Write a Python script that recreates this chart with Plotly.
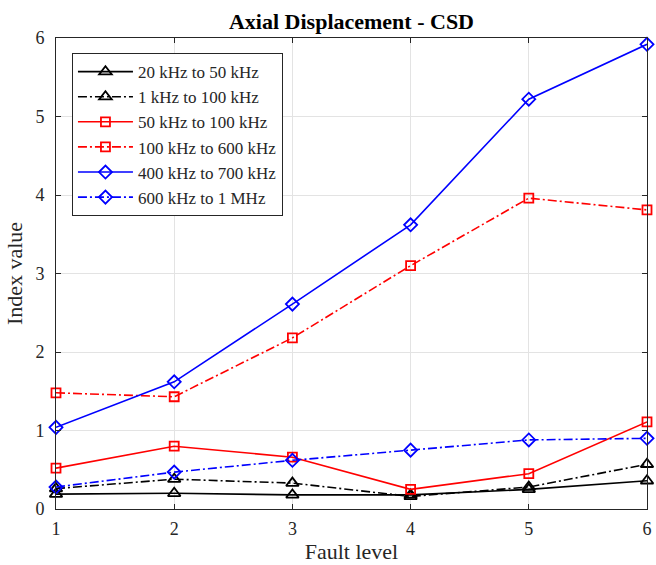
import plotly.graph_objects as go

# Fault levels on the x axis
fault_level = [1, 2, 3, 4, 5, 6]

# Index values per frequency band
band_20k_50k = [0.19, 0.20, 0.18, 0.18, 0.25, 0.36]
band_1k_100k = [0.26, 0.38, 0.33, 0.16, 0.28, 0.57]
band_50k_100k = [0.52, 0.80, 0.66, 0.25, 0.45, 1.11]
band_100k_600k = [1.48, 1.43, 2.18, 3.10, 3.96, 3.81]
band_400k_700k = [1.04, 1.62, 2.61, 3.62, 5.22, 5.92]
band_600k_1M = [0.28, 0.47, 0.62, 0.75, 0.88, 0.90]

series_names = [
    "20 kHz to 50 kHz",
    "1 kHz to 100 kHz",
    "50 kHz to 100 kHz",
    "100 kHz to 600 kHz",
    "400 kHz to 700 kHz",
    "600 kHz to 1 MHz",
]
series_values = [band_20k_50k, band_1k_100k, band_50k_100k,
                 band_100k_600k, band_400k_700k, band_600k_1M]

DASHDOT = "9px,3px,2px,3px"
styles = [
    ("black", "solid", "triangle-up-open", 11),
    ("black", DASHDOT, "triangle-up-open", 11),
    ("#ff0000", "solid", "square-open", 9),
    ("#ff0000", DASHDOT, "square-open", 9),
    ("#0000ff", "solid", "diamond-open", 10),
    ("#0000ff", DASHDOT, "diamond-open", 10),
]

fig = go.Figure()
for name, vals, (color, dash, symbol, size) in zip(series_names, series_values, styles):
    fig.add_trace(go.Scatter(
        x=fault_level, y=vals, name=name, mode="lines+markers",
        line=dict(color=color, width=1.6, dash=dash),
        marker=dict(symbol=symbol, size=size, color=color,
                    line=dict(color=color, width=1.8)),
        cliponaxis=False,
    ))

font_family = "Liberation Serif, Times New Roman, serif"
axis_common = dict(
    showgrid=True, gridcolor="#e3e3e3", gridwidth=1,
    showline=True, linecolor="#262626", linewidth=1, mirror="ticks",
    ticks="inside", ticklen=5, tickcolor="#262626",
    zeroline=False, ticklabeloverflow="allow",
    tickfont=dict(family=font_family, size=18, color="#262626"),
)

fig.update_layout(
    width=656, height=565,
    margin=dict(l=56, r=4, t=38, b=56),
    paper_bgcolor="white", plot_bgcolor="white",
    font=dict(family=font_family, color="#262626"),
    title=dict(text="<b>Axial Displacement - CSD</b>",
               font=dict(family=font_family, size=22, color="black"),
               xref="paper", x=0.5, xanchor="center", y=0.963, yanchor="middle"),
    xaxis=dict(range=[1, 6], tickvals=fault_level, ticklabelstandoff=3,
               title=dict(text="Fault level", standoff=6,
                          font=dict(family=font_family, size=22, color="#262626")),
               **axis_common),
    yaxis=dict(range=[0, 6], tickvals=[0, 1, 2, 3, 4, 5, 6], ticklabelstandoff=7,
               title=dict(text="Index value", standoff=6,
                          font=dict(family=font_family, size=22, color="#262626")),
               **axis_common),
    legend=dict(x=0.027, y=0.968, xanchor="left", yanchor="top",
                bgcolor="white", bordercolor="#262626", borderwidth=1,
                font=dict(family=font_family, size=17, color="#262626"),
                itemwidth=55, tracegroupgap=0),
    showlegend=True,
)

fig.write_html("out.html")
